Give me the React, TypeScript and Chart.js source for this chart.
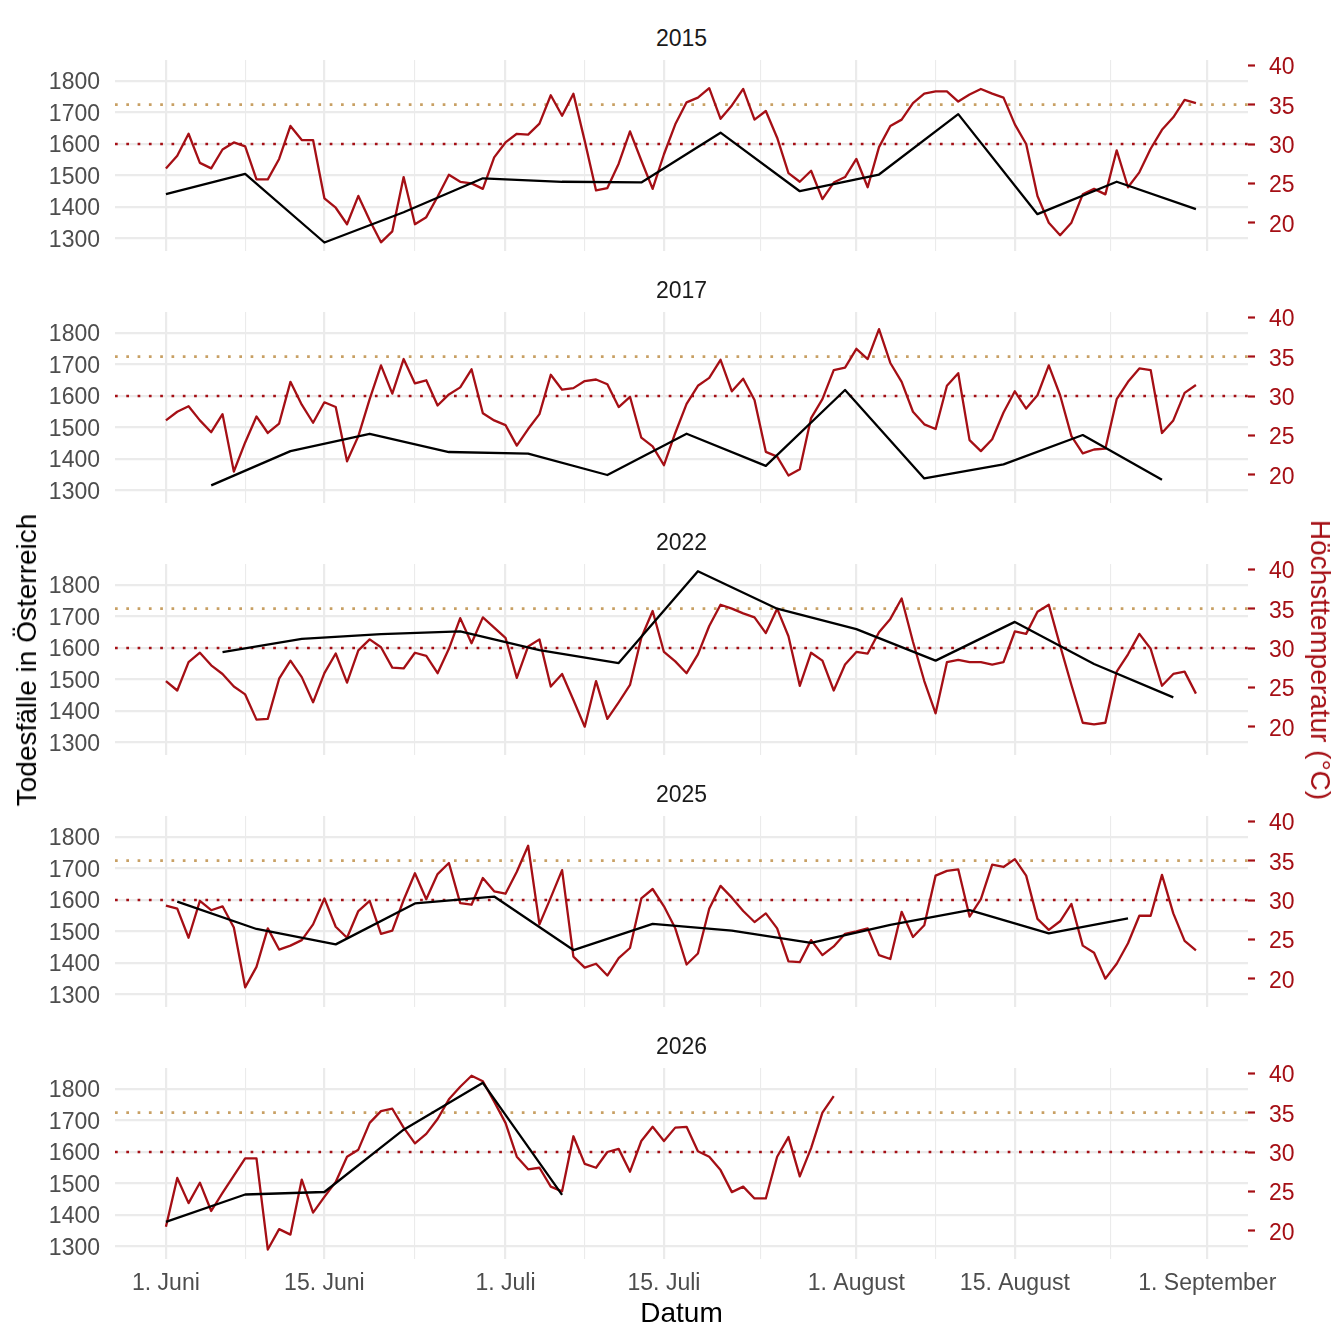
import { useEffect, useRef } from 'react'
import { Chart, registerables } from 'chart.js'

Chart.register(...registerables)

// shared axes (days counted from 1 June)
const X_MIN = -4.5
const X_MAX = 95.6
const xMajorDays = [0, 14, 30, 44, 61, 75, 92]
const xMajorLabels = ['1. Juni', '15. Juni', '1. Juli', '15. Juli', '1. August', '15. August', '1. September']
const xMinorDays = [7, 22, 37, 52.5, 68, 83.5]

const deathMajorTicks = [1300, 1400, 1500, 1600, 1700, 1800]
const deathMinorTicks = [1350, 1450, 1550, 1650, 1750, 1850]
const tempTicks = [20, 25, 30, 35, 40]
const DEATH_MIN = 1260
const DEATH_MAX = 1867
// secondary axis: deaths = 25 * temperature + 850
const TEMP_MIN = (DEATH_MIN - 850) / 25
const TEMP_MAX = (DEATH_MAX - 850) / 25

const HOT_LIMIT = 35
const WARM_LIMIT = 30

// 2015
const temp2015 = [
  26.9, 28.5, 31.3, 27.6, 26.9, 29.3, 30.2, 29.7, 25.5, 25.5,
  28.1, 32.3, 30.5, 30.5, 23.1, 21.9, 19.8, 23.4, 20.3, 17.5,
  18.9, 25.8, 19.8, 20.7, 23.3, 26.1, 25.2, 25.0, 24.3, 28.3,
  30.2, 31.3, 31.2, 32.6, 36.2, 33.6, 36.4, 30.4, 24.1, 24.4,
  27.5, 31.6, 27.9, 24.3, 28.7, 32.5, 35.3, 35.9, 37.1, 33.2,
  34.9, 37.0, 33.1, 34.2, 30.8, 26.3, 25.2, 26.6, 23.0, 25.1,
  25.8, 28.1, 24.5, 29.6, 32.3, 33.1, 35.2, 36.4, 36.7, 36.7,
  35.4, 36.3, 37.0, 36.4, 35.9, 32.5, 30.0, 23.4, 20.0, 18.4,
  20.0, 23.6, 24.3, 23.6, 29.2, 24.5, 26.4, 29.4, 31.8, 33.4,
  35.6, 35.2,
]
const deathDays2015 = [0, 7, 14, 21, 28, 35, 42, 49, 56, 63, 70, 77, 84, 91]
const deaths2015 = [1441, 1505, 1287, 1383, 1491, 1480, 1478, 1636, 1450, 1503, 1695, 1377, 1480, 1393]

// 2017
const temp2017 = [
  26.9, 28.0, 28.7, 26.9, 25.4, 27.7, 20.4, 24.1, 27.4, 25.3,
  26.5, 31.8, 28.9, 26.6, 29.2, 28.6, 21.7, 24.9, 29.6, 33.9,
  30.3, 34.7, 31.6, 32.0, 28.8, 30.2, 31.1, 33.4, 27.8, 26.9,
  26.3, 23.7, 25.8, 27.7, 32.7, 30.8, 31.0, 31.9, 32.1, 31.5,
  28.6, 29.9, 24.7, 23.6, 21.2, 25.3, 29.0, 31.3, 32.3, 34.6,
  30.6, 32.2, 29.5, 22.9, 22.3, 19.9, 20.7, 27.2, 29.6, 33.3,
  33.6, 36.0, 34.7, 38.5, 34.2, 31.8, 28.0, 26.4, 25.8, 31.3,
  32.9, 24.4, 23.0, 24.5, 27.9, 30.6, 28.4, 30.1, 33.9, 30.1,
  24.9, 22.7, 23.2, 23.3, 29.6, 31.8, 33.5, 33.3, 25.3, 26.9,
  30.4, 31.4,
]
const deathDays2017 = [4, 11, 18, 25, 32, 39, 46, 53, 60, 67, 74, 81, 88]
const deaths2017 = [1316, 1425, 1480, 1422, 1417, 1349, 1480, 1378, 1619, 1338, 1383, 1476, 1334]

// 2022
const temp2022 = [
  25.8, 24.6, 28.2, 29.4, 27.8, 26.7, 25.1, 24.1, 20.9, 21.0,
  26.1, 28.4, 26.3, 23.1, 26.8, 29.3, 25.6, 29.7, 31.1, 30.1,
  27.5, 27.4, 29.4, 29.0, 26.8, 29.9, 33.8, 30.6, 33.9, 32.6,
  31.3, 26.2, 30.2, 31.1, 25.1, 26.7, 23.4, 20.0, 25.8, 21.0,
  23.1, 25.3, 31.3, 34.7, 29.5, 28.3, 26.8, 29.2, 32.8, 35.5,
  35.0, 34.4, 33.9, 31.9, 35.0, 31.5, 25.2, 29.4, 28.4, 24.6,
  27.9, 29.5, 29.3, 32.0, 33.7, 36.3, 30.8, 25.8, 21.7, 28.2,
  28.5, 28.2, 28.2, 27.9, 28.2, 32.1, 31.8, 34.6, 35.5, 30.3,
  25.3, 20.5, 20.3, 20.5, 27.0, 29.2, 31.8, 29.9, 25.2, 26.7,
  27.0, 24.2,
]
const deathDays2022 = [5, 12, 19, 26, 33, 40, 47, 54, 61, 68, 75, 82, 89]
const deaths2022 = [1587, 1629, 1644, 1653, 1593, 1552, 1844, 1725, 1660, 1560, 1683, 1549, 1443]

// 2025
const temp2025 = [
  29.3, 28.9, 25.2, 29.9, 28.7, 29.2, 26.5, 18.9, 21.5, 26.4,
  23.7, 24.2, 24.9, 26.9, 30.2, 26.6, 25.2, 28.6, 29.9, 25.7,
  26.1, 30.0, 33.4, 30.1, 33.3, 34.7, 29.6, 29.4, 32.8, 31.1,
  30.8, 33.6, 36.9, 26.9, 30.3, 33.8, 22.8, 21.4, 21.9, 20.4,
  22.6, 23.9, 30.2, 31.4, 29.2, 26.4, 21.8, 23.2, 28.9, 31.8,
  30.3, 28.6, 27.2, 28.3, 26.4, 22.2, 22.1, 24.9, 23.0, 24.1,
  25.7, 26.0, 26.4, 23.0, 22.5, 28.5, 25.3, 26.8, 33.1, 33.7,
  33.9, 27.9, 30.1, 34.5, 34.2, 35.2, 33.1, 27.6, 26.2, 27.3,
  29.5, 24.2, 23.3, 20.0, 21.9, 24.5, 28.0, 28.0, 33.2, 28.3,
  24.8, 23.6,
]
const deathDays2025 = [1, 8, 15, 22, 29, 36, 43, 50, 57, 64, 71, 78, 85]
const deaths2025 = [1595, 1508, 1459, 1589, 1611, 1441, 1524, 1503, 1464, 1521, 1568, 1494, 1542]

// 2026 (until end of July)
const temp2026 = [
  20.5, 26.7, 23.5, 26.1, 22.5, 24.8, 27.0, 29.2, 29.2, 17.6,
  20.2, 19.5, 26.5, 22.3, 24.3, 26.2, 29.4, 30.3, 33.7, 35.2,
  35.5, 33.1, 31.1, 32.3, 34.2, 36.7, 38.3, 39.7, 39.0, 36.4,
  33.7, 29.4, 27.8, 28.0, 25.6, 25.0, 32.0, 28.5, 28.0, 30.0,
  30.4, 27.5, 31.4, 33.2, 31.4, 33.1, 33.2, 30.1, 29.4, 27.7,
  24.9, 25.6, 24.1, 24.1, 29.4, 31.9, 26.9, 30.5, 35.0, 37.1,
]
const deathDays2026 = [0, 7, 14, 21, 28, 35]
const deaths2026 = [1378, 1465, 1473, 1671, 1820, 1464]

const RED = '#A50F15'
const TAN = '#C8A064'
const GRID = '#EBEBEB'
const TEXT = '#4D4D4D'
const FONT = "'Liberation Sans', Arial, Helvetica, sans-serif"

Chart.defaults.font.family = FONT

const PANEL_STEP = 252
const CANVAS_TOP = 20
const PLOT_TOP_PAD = 40
const PLOT_H = 191
const LEFT_W = 115
const RIGHT_W = 96
const W = 1344

interface PanelProps {
  year: string
  temps: number[]
  deathDays: number[]
  deaths: number[]
  index: number
  last: boolean
}

function hline(value: number, color: string) {
  return {
    label: `${value} °C`,
    data: [{ x: X_MIN, y: value }, { x: X_MAX, y: value }],
    yAxisID: 'y1',
    borderColor: color,
    borderWidth: 2.7,
    borderDash: [2.7, 8.6],
    borderCapStyle: 'butt' as const,
    pointRadius: 0,
    order: 2,
  }
}

function Panel({ year, temps, deathDays, deaths, index, last }: PanelProps) {
  const canvasRef = useRef<HTMLCanvasElement>(null)
  const top = CANVAS_TOP + index * PANEL_STEP
  const height = last ? W - top : PLOT_TOP_PAD + PLOT_H + 40
  const xAxisH = last ? height - PLOT_TOP_PAD - PLOT_H : 0

  useEffect(() => {
    if (!canvasRef.current) return
    const chart = new Chart(canvasRef.current, {
      type: 'line',
      data: {
        datasets: [
          {
            label: `Todesfälle ${year}`,
            data: deaths.map((v, i) => ({ x: deathDays[i], y: v })),
            yAxisID: 'y',
            borderColor: '#000000',
            borderWidth: 2.3,
            borderJoinStyle: 'round',
            pointRadius: 0,
            order: 0,
          },
          {
            label: `Höchsttemperatur ${year}`,
            data: temps.map((v, i) => ({ x: i, y: v })),
            yAxisID: 'y1',
            borderColor: RED,
            borderWidth: 2.3,
            borderJoinStyle: 'round',
            pointRadius: 0,
            order: 1,
          },
          hline(HOT_LIMIT, TAN),
          hline(WARM_LIMIT, RED),
        ],
      },
      options: {
        responsive: false,
        animation: false,
        events: [],
        layout: { padding: { top: PLOT_TOP_PAD, bottom: last ? 0 : 40, left: 0, right: 0 } },
        plugins: { legend: { display: false }, tooltip: { enabled: false }, title: { display: false } },
        scales: {
          x: {
            type: 'linear',
            min: X_MIN,
            max: X_MAX,
            afterBuildTicks: (s: any) => {
              s.ticks = [...xMajorDays, ...xMinorDays].sort((a, b) => a - b).map(value => ({ value }))
            },
            afterFit: (s: any) => { s.height = xAxisH },
            border: { display: false },
            grid: {
              color: GRID,
              drawTicks: false,
              lineWidth: (ctx: any) => (xMajorDays.includes(ctx.tick?.value) ? 2.2 : 1.1),
            },
            ticks: {
              display: last,
              autoSkip: false,
              maxRotation: 0,
              minRotation: 0,
              padding: 11,
              color: TEXT,
              font: { size: 23 },
              callback: (v: any) => {
                const k = xMajorDays.indexOf(Number(v))
                return k >= 0 ? xMajorLabels[k] : ''
              },
            },
          },
          y: {
            position: 'left',
            min: DEATH_MIN,
            max: DEATH_MAX,
            afterBuildTicks: (s: any) => {
              s.ticks = [...deathMajorTicks, ...deathMinorTicks].sort((a, b) => a - b).map(value => ({ value }))
            },
            afterFit: (s: any) => { s.width = LEFT_W },
            border: { display: false },
            grid: {
              color: GRID,
              drawTicks: false,
              lineWidth: (ctx: any) => (deathMajorTicks.includes(ctx.tick?.value) ? 2.2 : 1.1),
            },
            ticks: {
              padding: 15,
              labelOffset: 2,
              color: TEXT,
              font: { size: 23 },
              callback: (v: any) => (deathMajorTicks.includes(Number(v)) ? String(v) : ''),
            },
          },
          y1: {
            position: 'right',
            min: TEMP_MIN,
            max: TEMP_MAX,
            afterBuildTicks: (s: any) => {
              s.ticks = tempTicks.map(value => ({ value }))
            },
            afterFit: (s: any) => { s.width = RIGHT_W },
            border: { display: false },
            grid: {
              drawOnChartArea: false,
              drawTicks: true,
              tickLength: 7,
              tickColor: RED,
              tickWidth: 2.2,
            },
            ticks: {
              padding: 14,
              labelOffset: 2.5,
              color: RED,
              font: { size: 23 },
              callback: (v: any) => String(v),
            },
          },
        },
      },
    })
    return () => { chart.destroy() }
  }, [year, temps, deathDays, deaths, last, xAxisH])

  return (
    <>
      <div
        style={{
          position: 'absolute',
          left: LEFT_W,
          width: W - LEFT_W - RIGHT_W,
          top: 27 + index * PANEL_STEP,
          textAlign: 'center',
          fontSize: 23,
          lineHeight: '23px',
          color: '#1A1A1A',
        }}
      >
        {year}
      </div>
      <canvas
        ref={canvasRef}
        width={W}
        height={height}
        style={{ position: 'absolute', left: 0, top, width: W, height }}
      />
    </>
  )
}

const panels = [
  { year: '2015', temps: temp2015, deathDays: deathDays2015, deaths: deaths2015 },
  { year: '2017', temps: temp2017, deathDays: deathDays2017, deaths: deaths2017 },
  { year: '2022', temps: temp2022, deathDays: deathDays2022, deaths: deaths2022 },
  { year: '2025', temps: temp2025, deathDays: deathDays2025, deaths: deaths2025 },
  { year: '2026', temps: temp2026, deathDays: deathDays2026, deaths: deaths2026 },
]

export default function App() {
  return (
    <div
      style={{
        position: 'absolute',
        left: 0,
        top: 0,
        width: W,
        height: W,
        background: '#ffffff',
        overflow: 'hidden',
        fontFamily: FONT,
      }}
    >
      {panels.map((p, i) => (
        <Panel key={p.year} {...p} index={i} last={i === panels.length - 1} />
      ))}
      <div
        style={{
          position: 'absolute',
          left: 27,
          top: 659.5,
          transform: 'translate(-50%, -50%) rotate(-90deg)',
          whiteSpace: 'nowrap',
          fontSize: 28,
          lineHeight: '28px',
          color: '#000000',
        }}
      >
        Todesfälle in Österreich
      </div>
      <div
        style={{
          position: 'absolute',
          left: 1320,
          top: 659.5,
          transform: 'translate(-50%, -50%) rotate(90deg)',
          whiteSpace: 'nowrap',
          fontSize: 28,
          lineHeight: '28px',
          color: RED,
        }}
      >
        Höchsttemperatur (°C)
      </div>
      <div
        style={{
          position: 'absolute',
          left: LEFT_W,
          width: W - LEFT_W - RIGHT_W,
          top: 1299,
          textAlign: 'center',
          fontSize: 28,
          lineHeight: '28px',
          color: '#000000',
        }}
      >
        Datum
      </div>
    </div>
  )
}
